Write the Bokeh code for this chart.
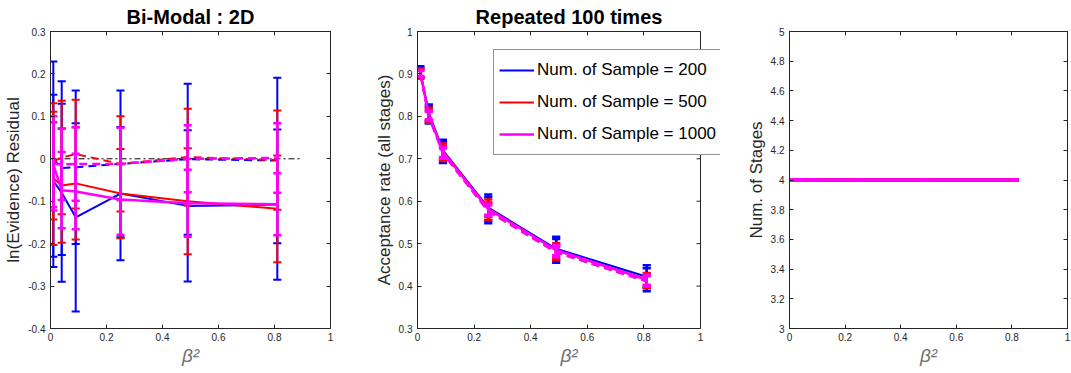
from bokeh.plotting import figure
from bokeh.layouts import row
from bokeh.models import (LinearAxis, FixedTicker, CustomJSTickFormatter, Range1d,
                          Legend, LegendItem, ColumnDataSource, CustomLabelingPolicy)
from bokeh.embed import file_html
from bokeh.resources import INLINE

# ---------------- data ----------------
beta2 = [0.01, 0.04, 0.09, 0.25, 0.49, 0.81]
sample_labels = ["Num. of Sample = 200", "Num. of Sample = 500", "Num. of Sample = 1000"]
colors = ["#0000FF", "#FF0000", "#FF00FF"]

# Panel 1: ln(Evidence) residual (solid = mean, dashed = second estimator)
resid_solid_200 = [-0.052, -0.080, -0.138, -0.082, -0.111, -0.108]
resid_solid_err_200 = [0.203, 0.210, 0.222, 0.157, 0.178, 0.177]
resid_dash_200 = [-0.001, -0.022, -0.020, -0.012, -0.001, -0.004]
resid_dash_err_200 = [0.230, 0.205, 0.181, 0.173, 0.178, 0.195]

resid_solid_500 = [-0.046, -0.063, -0.058, -0.082, -0.100, -0.118]
resid_solid_err_500 = [0.157, 0.135, 0.132, 0.105, 0.125, 0.126]
resid_dash_500 = [-0.006, 0.003, 0.011, -0.012, 0.004, -0.003]
resid_dash_err_500 = [0.137, 0.134, 0.128, 0.112, 0.114, 0.117]

resid_solid_1000 = [-0.014, -0.074, -0.077, -0.096, -0.105, -0.107]
resid_solid_err_1000 = [0.100, 0.090, 0.089, 0.083, 0.079, 0.073]
resid_dash_1000 = [-0.011, -0.013, -0.012, -0.012, 0.000, 0.002]
resid_dash_err_1000 = [0.111, 0.084, 0.087, 0.085, 0.079, 0.082]

# Panel 2: acceptance rate (all stages)
acc_solid_200 = [0.905, 0.808, 0.720, 0.585, 0.488, 0.422]
acc_err_200 = [0.013, 0.020, 0.025, 0.031, 0.028, 0.027]
acc_dash_200 = [0.902, 0.803, 0.715, 0.579, 0.483, 0.415]

acc_solid_500 = [0.903, 0.805, 0.718, 0.583, 0.484, 0.416]
acc_err_500 = [0.010, 0.015, 0.018, 0.021, 0.017, 0.015]
acc_dash_500 = [0.900, 0.800, 0.713, 0.576, 0.479, 0.411]

acc_solid_1000 = [0.902, 0.803, 0.716, 0.581, 0.485, 0.415]
acc_err_1000 = [0.007, 0.010, 0.012, 0.013, 0.012, 0.012]
acc_dash_1000 = [0.900, 0.800, 0.712, 0.577, 0.480, 0.411]

# Panel 3: number of stages
stages_200 = [4, 4, 4, 4, 4, 4]
stages_500 = [4, 4, 4, 4, 4, 4]
stages_1000 = [4, 4, 4, 4, 4, 4]
stages_err = [0, 0, 0, 0, 0, 0]

# ---------------- styling helpers ----------------
AX = "#262626"
FONT = "Liberation Sans"
fmt = CustomJSTickFormatter(code="return String(Math.round(tick*100)/100);")
no_labels = CustomLabelingPolicy(code="return new Set()")


def make_fig(width, left, right, xr, yr, xticks, yticks, ylabel, title=None,
             box_right=True, xbounds=None):
    p = figure(width=width, height=373, output_backend="svg", toolbar_location=None,
               x_range=Range1d(*xr), y_range=Range1d(*yr),
               min_border_left=left, min_border_right=right,
               min_border_top=31, min_border_bottom=45,
               background_fill_color="white", border_fill_color="white")
    p.grid.visible = False
    p.outline_line_color = AX if box_right else None
    p.outline_line_width = 1
    if title:
        p.title.text = title
        p.title.text_font = FONT
        p.title.text_font_size = "20px"
        p.title.text_font_style = "bold"
        p.title.text_color = "black"
        p.title.align = "center"
        p.title.standoff = 0
    for ax, t in ((p.xaxis[0], xticks), (p.yaxis[0], yticks)):
        ax.ticker = FixedTicker(ticks=t)
        ax.formatter = fmt
        ax.major_tick_in = 4
        ax.major_tick_out = 0
        ax.minor_tick_line_color = None
        ax.axis_line_color = AX
        ax.major_tick_line_color = AX
        ax.major_label_text_font = FONT
        ax.major_label_text_font_size = "10px"
        ax.major_label_text_color = AX
        ax.axis_label_text_font = FONT
    if xbounds is not None:
        p.xaxis[0].bounds = xbounds
    p.xaxis.major_label_standoff = 4
    p.yaxis.major_label_standoff = 5
    p.xaxis.axis_label = "β²"
    p.xaxis.axis_label_text_font_size = "19px"
    p.xaxis.axis_label_text_font_style = "italic"
    p.xaxis.axis_label_text_color = "#707070"
    p.xaxis.axis_label_standoff = 1
    p.yaxis.axis_label = ylabel
    p.yaxis.axis_label_text_font_size = "17px"
    p.yaxis.axis_label_text_font_style = "normal"
    p.yaxis.axis_label_text_color = AX
    p.yaxis.axis_label_standoff = 2
    locs = [("above", xticks)]
    if box_right:
        locs.append(("right", yticks))
    for loc, t in locs:
        a = LinearAxis(ticker=FixedTicker(ticks=t), major_label_policy=no_labels,
                       major_label_text_font_size="1px",
                       major_label_standoff=0, major_tick_in=4, major_tick_out=0,
                       minor_tick_line_color=None, axis_line_color=AX,
                       major_tick_line_color=AX)
        if loc == "above" and xbounds is not None:
            a.bounds = xbounds
        p.add_layout(a, loc)
    return p


def errorbar(p, x, y, e, color, lw, bar_lw, dash="solid", cap=0.0145):
    src = ColumnDataSource(dict(
        x=x, y=y,
        lo=[yi - ei for yi, ei in zip(y, e)],
        hi=[yi + ei for yi, ei in zip(y, e)],
        cl=[xi - cap for xi in x],
        cr=[xi + cap for xi in x]))
    r = p.line("x", "y", source=src, line_color=color, line_width=lw, line_dash=dash)
    p.segment(x0="x", y0="lo", x1="x", y1="hi", source=src, line_color=color, line_width=bar_lw)
    p.segment(x0="cl", y0="lo", x1="cr", y1="lo", source=src, line_color=color, line_width=bar_lw)
    p.segment(x0="cl", y0="hi", x1="cr", y1="hi", source=src, line_color=color, line_width=bar_lw)
    return r


ticks_x = [0, 0.2, 0.4, 0.6, 0.8, 1]

# ---------------- panel 1 ----------------
p1 = make_fig(360, 50, 30, (0, 1), (-0.4, 0.3), ticks_x,
              [-0.4, -0.3, -0.2, -0.1, 0, 0.1, 0.2, 0.3],
              "ln(Evidence) Residual", "Bi-Modal : 2D")
zero_x = [0, 0.9]
zero_y = [0, 0]
p1.line(zero_x, zero_y, line_color="black", line_width=1, line_dash="6 3 2 3")
p1_sets = [
    (resid_solid_200, resid_solid_err_200, resid_dash_200, resid_dash_err_200),
    (resid_solid_500, resid_solid_err_500, resid_dash_500, resid_dash_err_500),
    (resid_solid_1000, resid_solid_err_1000, resid_dash_1000, resid_dash_err_1000),
]
for (s, se, d, de), c in zip(p1_sets, colors):
    lw = 2.5 if c == "#FF00FF" else 2
    errorbar(p1, beta2, s, se, c, lw, lw)
    errorbar(p1, beta2, d, de, c, lw, lw, dash="8 5")

# ---------------- panel 2 ----------------
# The frame is widened by 20 px past x = 1 so that the legend (which overhangs the
# axes box in the reference) is not clipped; the box's right edge is drawn at x = 1.
P2_FRAME_W = 360 - 57
P2_BOX_W = 283
acc_yticks = [0.3, 0.4, 0.5, 0.6, 0.7, 0.8, 0.9, 1]
p2 = make_fig(360, 57, 0, (0, P2_FRAME_W / P2_BOX_W), (0.3, 1), ticks_x, acc_yticks,
              "Acceptance rate (all stages)", "Repeated 100 times",
              box_right=False, xbounds=(0, 1))
p2.segment(x0=[1], y0=[0.3], x1=[1], y1=[1], line_color=AX, line_width=1)
tick_len = 4 / P2_BOX_W
p2.segment(x0=[1 - tick_len] * len(acc_yticks), y0=acc_yticks,
           x1=[1] * len(acc_yticks), y1=acc_yticks, line_color=AX, line_width=1)
p2_sets = [
    (acc_solid_200, acc_err_200, acc_dash_200),
    (acc_solid_500, acc_err_500, acc_dash_500),
    (acc_solid_1000, acc_err_1000, acc_dash_1000),
]
legend_items = []
for (s, se, d), c, lab in zip(p2_sets, colors, sample_labels):
    lw = 2.5 if c == "#FF00FF" else 2
    r = errorbar(p2, beta2, s, se, c, lw, 2.5)
    errorbar(p2, beta2, d, se, c, lw, 2.5, dash="8 5")
    legend_items.append(LegendItem(label=lab, renderers=[r]))
leg = Legend(items=legend_items, location=(76, 173),
             label_text_font=FONT, label_text_font_size="17px", label_text_color="black",
             glyph_width=35, glyph_height=30, label_height=30, label_standoff=3,
             spacing=2, padding=5, margin=0,
             border_line_color=AX, border_line_width=1,
             background_fill_color="white", background_fill_alpha=1)
p2.add_layout(leg)

# ---------------- panel 3 ----------------
p3 = make_fig(351, 69, 1, (0, 1), (3, 5), ticks_x,
              [3, 3.2, 3.4, 3.6, 3.8, 4, 4.2, 4.4, 4.6, 4.8, 5],
              "Num. of Stages")
for st, c in zip((stages_200, stages_500, stages_1000), colors):
    errorbar(p3, beta2, st, stages_err, c, 3.5, 3.5)

layout = row(p1, p2, p3)
open("out.html", "w").write(file_html(layout, INLINE))
